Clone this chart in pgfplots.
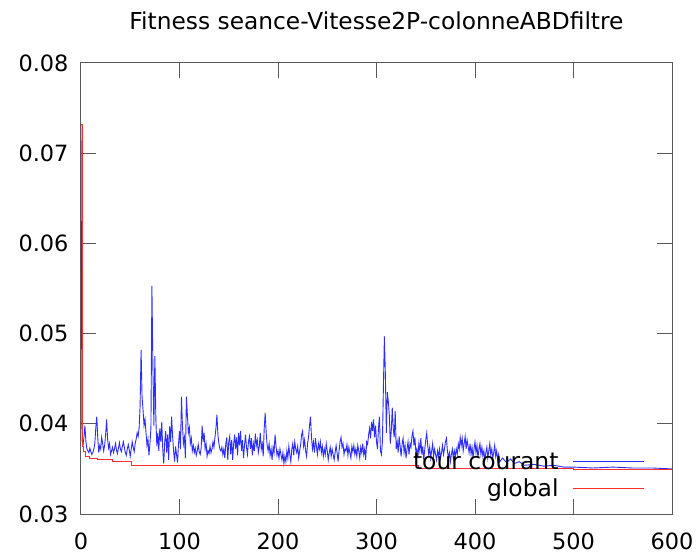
\documentclass[border=0pt]{standalone}
\usepackage{pgfplots}
\usepackage{pgfplotstable}
\pgfplotsset{compat=1.18}
\usepackage{fontspec}
\setmainfont{DejaVu Sans}

\definecolor{gpblue}{RGB}{45,45,255}
\definecolor{gpred}{RGB}{255,45,45}

% tour courant (fitness of the current round)
\pgfplotstableread{
x y
0 0.0732
1 0.0382
2 0.0376
3 0.0385
4 0.0398
5 0.0380
6 0.0372
7 0.0370
8 0.0368
9 0.0373
10 0.0369
11 0.0366
12 0.0368
13 0.0372
14 0.0378
15 0.0395
16 0.0408
17 0.0385
18 0.0368
19 0.0376
20 0.0372
21 0.0385
22 0.0378
23 0.0370
24 0.0376
25 0.0388
26 0.0405
27 0.0383
28 0.0373
29 0.0378
30 0.0366
31 0.0370
32 0.0374
33 0.0368
34 0.0372
35 0.0378
36 0.0371
37 0.0367
38 0.0373
39 0.0379
40 0.0372
41 0.0369
42 0.0375
43 0.0380
44 0.0374
45 0.0368
46 0.0365
47 0.0372
48 0.0377
49 0.0371
50 0.0364
51 0.0372
52 0.0380
53 0.0374
54 0.0369
55 0.0378
56 0.0383
57 0.0390
58 0.0386
59 0.0395
60 0.0420
61 0.0482
62 0.0430
63 0.0415
64 0.0398
65 0.0405
66 0.0390
67 0.0376
68 0.0383
69 0.0365
70 0.0378
71 0.0395
72 0.0553
73 0.0462
74 0.0398
75 0.0475
76 0.0405
77 0.0375
78 0.0390
79 0.0370
80 0.0395
81 0.0380
82 0.0402
83 0.0372
84 0.0356
85 0.0380
86 0.0392
87 0.0368
88 0.0388
89 0.0360
90 0.0397
91 0.0380
92 0.0408
93 0.0386
94 0.0370
95 0.0358
96 0.0375
97 0.0366
98 0.0357
99 0.0378
100 0.0392
101 0.0372
102 0.0430
103 0.0398
104 0.0378
105 0.0385
106 0.0362
107 0.0430
108 0.0410
109 0.0390
110 0.0396
111 0.0378
112 0.0384
113 0.0370
114 0.0376
115 0.0368
116 0.0373
117 0.0365
118 0.0370
119 0.0377
120 0.0369
121 0.0366
122 0.0373
123 0.0398
124 0.0380
125 0.0390
126 0.0372
127 0.0378
128 0.0364
129 0.0370
130 0.0367
131 0.0375
132 0.0368
133 0.0372
134 0.0380
135 0.0374
136 0.0385
137 0.0395
138 0.0410
139 0.0388
140 0.0378
141 0.0372
142 0.0370
143 0.0374
144 0.0366
145 0.0372
146 0.0362
147 0.0378
148 0.0385
149 0.0360
150 0.0380
151 0.0386
152 0.0366
153 0.0382
154 0.0360
155 0.0378
156 0.0388
157 0.0372
158 0.0385
159 0.0365
160 0.0390
161 0.0376
162 0.0392
163 0.0370
164 0.0382
165 0.0362
166 0.0376
167 0.0388
168 0.0374
169 0.0366
170 0.0380
171 0.0386
172 0.0372
173 0.0384
174 0.0365
175 0.0378
176 0.0370
177 0.0389
178 0.0376
179 0.0382
180 0.0368
181 0.0375
182 0.0390
183 0.0372
184 0.0378
185 0.0364
186 0.0395
187 0.0412
188 0.0390
189 0.0376
190 0.0370
191 0.0378
192 0.0365
193 0.0372
194 0.0360
195 0.0374
196 0.0368
197 0.0388
198 0.0375
199 0.0365
200 0.0370
201 0.0362
202 0.0372
203 0.0366
204 0.0360
205 0.0368
206 0.0356
207 0.0364
208 0.0358
209 0.0370
210 0.0362
211 0.0375
212 0.0366
213 0.0358
214 0.0372
215 0.0378
216 0.0365
217 0.0380
218 0.0372
219 0.0368
220 0.0375
221 0.0362
222 0.0370
223 0.0377
224 0.0388
225 0.0392
226 0.0375
227 0.0382
228 0.0370
229 0.0364
230 0.0378
231 0.0385
232 0.0398
233 0.0408
234 0.0385
235 0.0372
236 0.0380
237 0.0368
238 0.0384
239 0.0375
240 0.0366
241 0.0378
242 0.0372
243 0.0380
244 0.0368
245 0.0375
246 0.0364
247 0.0372
248 0.0366
249 0.0378
250 0.0370
251 0.0360
252 0.0368
253 0.0374
254 0.0364
255 0.0372
256 0.0366
257 0.0360
258 0.0368
259 0.0376
260 0.0368
261 0.0358
262 0.0370
263 0.0380
264 0.0385
265 0.0374
266 0.0378
267 0.0366
268 0.0372
269 0.0370
270 0.0377
271 0.0365
272 0.0374
273 0.0368
274 0.0362
275 0.0375
276 0.0369
277 0.0376
278 0.0366
279 0.0372
280 0.0364
281 0.0376
282 0.0370
283 0.0362
284 0.0374
285 0.0368
286 0.0378
287 0.0366
288 0.0372
289 0.0360
290 0.0380
291 0.0377
292 0.0388
293 0.0395
294 0.0384
295 0.0402
296 0.0392
297 0.0405
298 0.0385
299 0.0398
300 0.0380
301 0.0372
302 0.0395
303 0.0408
304 0.0370
305 0.0366
306 0.0380
307 0.0440
308 0.0497
309 0.0455
310 0.0390
311 0.0435
312 0.0425
313 0.0410
314 0.0378
315 0.0392
316 0.0418
317 0.0395
318 0.0385
319 0.0414
320 0.0372
321 0.0380
322 0.0368
323 0.0386
324 0.0375
325 0.0364
326 0.0378
327 0.0384
328 0.0368
329 0.0376
330 0.0362
331 0.0372
332 0.0380
333 0.0366
334 0.0378
335 0.0374
336 0.0386
337 0.0392
338 0.0376
339 0.0385
340 0.0368
341 0.0372
342 0.0362
343 0.0378
344 0.0370
345 0.0384
346 0.0366
347 0.0375
348 0.0360
349 0.0372
350 0.0382
351 0.0390
352 0.0376
353 0.0366
354 0.0374
355 0.0362
356 0.0370
357 0.0378
358 0.0364
359 0.0372
360 0.0366
361 0.0360
362 0.0370
363 0.0364
364 0.0372
365 0.0362
366 0.0368
367 0.0376
368 0.0366
369 0.0372
370 0.0380
371 0.0384
372 0.0370
373 0.0362
374 0.0368
375 0.0358
376 0.0366
377 0.0372
378 0.0362
379 0.0370
380 0.0364
381 0.0372
382 0.0366
383 0.0378
384 0.0372
385 0.0385
386 0.0376
387 0.0384
388 0.0370
389 0.0378
390 0.0386
391 0.0372
392 0.0382
393 0.0375
394 0.0368
395 0.0378
396 0.0366
397 0.0374
398 0.0362
399 0.0372
400 0.0380
401 0.0368
402 0.0376
403 0.0362
404 0.0372
405 0.0378
406 0.0366
407 0.0374
408 0.0364
409 0.0370
410 0.0360
411 0.0368
412 0.0374
413 0.0362
414 0.0370
415 0.0378
416 0.0366
417 0.0372
418 0.0362
419 0.0368
420 0.0376
421 0.0364
422 0.0370
423 0.0360
424 0.0366
425 0.0358
428 0.0362
432 0.0357
436 0.0361
440 0.0356
445 0.0358
450 0.0354
460 0.0355
470 0.0353
480 0.0354
490 0.0352
500 0.0352
520 0.0351
540 0.0352
560 0.0351
580 0.0351
600 0.0350
}\tourcourant

% global (best so far)
\pgfplotstableread{
x y
0 0.0732
1 0.0375
2 0.0369
5 0.0364
9 0.0362
17 0.0360
32 0.0358
51 0.0354
205 0.03535
343 0.0350
500 0.03495
600 0.03495
}\globalbest

\begin{document}
\begin{tikzpicture}
\begin{axis}[
    scale only axis,
    width=591bp, height=451bp,
    xmin=0, xmax=600,
    ymin=0.03, ymax=0.08,
    xtick={0,100,...,600},
    ytick={0.03,0.04,...,0.08},
    scaled y ticks=false,
    yticklabel style={xshift=-9bp, /pgf/number format/.cd, fixed, fixed zerofill, precision=2},
    /pgf/number format/assume math mode=true,
    ticklabel style={font=\fontsize{22.5}{26}\selectfont},
    xticklabel style={yshift=-15bp},
    xtick pos=both, ytick pos=both,
    tick align=inside,
    major tick length=15bp,
    axis line style={draw=black!65, line width=1bp},
    major tick style={draw=black!65, line width=1bp},
    title={Fitness seance-Vitesse2P-colonneABDfiltre},
    title style={font=\fontsize{23.4}{26}\selectfont, at={(0.5,1)}, anchor=base, yshift=28bp},
    legend plot pos=right,
    legend cell align=right,
    legend style={draw=none, fill=none,
        at={(0.957,0.026)}, anchor=south east,
        font=\fontsize{23.5}{26}\selectfont, row sep=4bp, inner sep=2bp},
]
\addplot[draw=gpblue, line width=0.9bp, mark=none,
    legend image code/.code={\path (0bp,0bp); \draw[draw=gpblue, line width=0.9bp] (12bp,0bp) -- (83bp,0bp);}]
    table {\tourcourant};
\addlegendentry{tour courant}
\addplot[draw=gpred, line width=0.9bp, mark=none, const plot,
    legend image code/.code={\path (0bp,0bp); \draw[draw=gpred, line width=0.9bp] (12bp,0bp) -- (83bp,0bp);}]
    table {\globalbest};
\addlegendentry{global}
\end{axis}
\pgfresetboundingbox
\path ([xshift=-81bp, yshift=-41bp]current axis.south west) rectangle ([xshift=27bp, yshift=63bp]current axis.north east);
\end{tikzpicture}
\end{document}
